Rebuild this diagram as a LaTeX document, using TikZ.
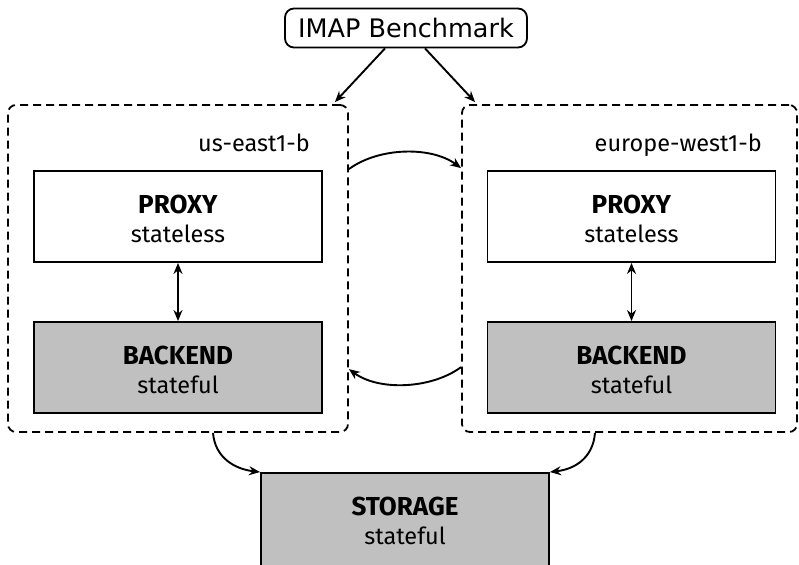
\documentclass[tikz,border=0pt]{standalone}
\usepackage{fontspec}
\setmainfont{Fira Sans}
\newfontfamily\dvfont{DejaVu Sans}
\usetikzlibrary{arrows.meta,calc}
\definecolor{boxgray}{HTML}{C0C0C0}
\begin{document}
\begin{tikzpicture}[x=1pt,y=-1pt,
  region/.style={draw, line width=1.8pt, dash pattern=on 8pt off 5pt, rounded corners=8pt, inner sep=0pt},
  compbox/.style={draw, line width=1.9pt, minimum width=288pt, minimum height=91pt, inner sep=0pt},
  boxtext/.style={align=center, inner sep=0pt, yshift=-2.5pt, font=\fontsize{23.5}{29}\selectfont},
  grayfill/.style={fill=boxgray},
  zonelabel/.style={anchor=base east, inner sep=0pt, font=\fontsize{23.5}{25}\selectfont},
  arr/.style={line width=1.9pt, -{Stealth[length=11pt,width=9pt]}},
  dblarr/.style={line width=1.9pt, {Stealth[length=11pt,width=9pt]}-{Stealth[length=11pt,width=9pt]}}
]
\useasboundingbox (0,0) rectangle (799,564);
\clip (0,0) rectangle (799,564);

\node[draw, line width=1.8pt, rounded corners=9pt, minimum width=242pt, minimum height=39pt, inner sep=0pt, font=\dvfont\fontsize{25.5}{28}\selectfont] (imap) at (406,28) {IMAP Benchmark};

\node[region, minimum width=340pt, minimum height=327pt] (L) at (178,268.5) {};
\node[region, minimum width=335pt, minimum height=327pt] (R) at (629.5,268.5) {};

\node[zonelabel] (lblL) at (310,152) {us-east1-b};
\node[zonelabel] (lblR) at (762,152) {europe-west1-b};

\node[compbox] (PL) at (178,216.5) {};
\node[boxtext] (tPL) at (PL) {\textbf{\fontsize{26}{29}\selectfont PROXY}\\stateless};
\node[compbox, grayfill] (BL) at (178,367.5) {};
\node[boxtext] (tBL) at (BL) {\textbf{\fontsize{26}{29}\selectfont BACKEND}\\stateful};
\node[compbox] (PR) at (631.5,216.5) {};
\node[boxtext] (tPR) at (PR) {\textbf{\fontsize{26}{29}\selectfont PROXY}\\stateless};
\node[compbox, grayfill] (BR) at (631.5,367.5) {};
\node[boxtext] (tBR) at (BR) {\textbf{\fontsize{26}{29}\selectfont BACKEND}\\stateful};
\node[compbox, grayfill, minimum height=101pt] (S) at (405,523.5) {};
\node[boxtext] (tS) at (405,518.5) {\textbf{\fontsize{26}{29}\selectfont STORAGE}\\stateful};

\draw[dblarr] (PL.south) -- (BL.north);
\draw[dblarr] (PR.south) -- (BR.north);

\draw[arr] ([xshift=-21pt]imap.south) -- ([xshift=-14pt,yshift=2pt]L.north east);
\draw[arr] ([xshift=19pt]imap.south) -- ([xshift=14pt,yshift=2pt]R.north west);

\draw[arr] ([yshift=-65pt]L.north east) .. controls +(30,-22) and +(-30,-22) .. ([yshift=-64pt]R.north west);
\draw[arr] ([yshift=-263pt]R.north west) .. controls +(-30,22) and +(30,22) .. ([yshift=-265pt]L.north east);

\draw[arr] ([xshift=35pt]L.south) .. controls +(2,25) and +(-25,-3) .. (S.north west);
\draw[arr] ([xshift=-34.5pt]R.south) .. controls +(-2,25) and +(25,-3) .. (S.north east);
\end{tikzpicture}
\end{document}
